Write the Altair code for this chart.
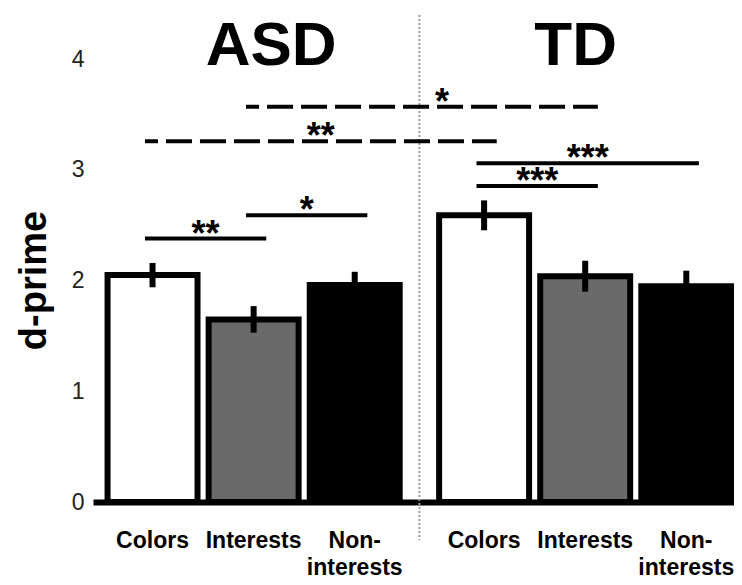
import altair as alt
import pandas as pd

FONT = "Liberation Sans"

# ---- data ----
groups = ["ASD", "TD"]
conditions = ["Colors", "Interests", "Non-interests"]
cond_labels = ["Colors", "Interests", "Non-\ninterests"]
asd_means = [2.05, 1.65, 1.96]
asd_sems = [0.11, 0.12, 0.12]
td_means = [2.59, 2.04, 1.95]
td_sems = [0.135, 0.14, 0.14]
fills = ["#ffffff", "#6a6a6a", "#000000"]
y_ticks = [0, 1, 2, 3, 4]

# significance comparisons (bar index from / to, bracket level in d-prime units)
sig_from = [0, 1, 0, 1, 3, 3]
sig_to = [1, 2, 3, 4, 4, 5]
sig_level = [2.38, 2.59, 3.26, 3.57, 2.855, 3.06]
sig_stars = ["**", "*", "**", "*", "***", "***"]
sig_dashed = [False, False, True, True, False, False]

# ---- layout helpers ----
GROUP_STEP = 3.28
HALF = 0.445
means = {"ASD": asd_means, "TD": td_means}
sems = {"ASD": asd_sems, "TD": td_sems}

rows = []
for gi, g in enumerate(groups):
    for ci, c in enumerate(conditions):
        pos = gi * GROUP_STEP + ci
        m = means[g][ci]
        s = sems[g][ci]
        rows.append(dict(group=g, cond=c, label=cond_labels[ci], pos=pos,
                         left=pos - HALF, right=pos + HALF, mean=m, base=0.0,
                         lo=m - s, hi=m + s, fill=fills[ci]))
bars = pd.DataFrame(rows)
positions = list(bars["pos"])

sig_rows = []
for i in range(len(sig_from)):
    x1 = positions[sig_from[i]] - 0.075
    x2 = positions[sig_to[i]] + 0.125
    sig_rows.append(dict(idx=i, x1=x1, x2=x2, mid=(x1 + x2) / 2, level=sig_level[i],
                         stars=sig_stars[i], dashed=sig_dashed[i]))
sig = pd.DataFrame(sig_rows)

sep = pd.DataFrame({"sep": [(positions[2] + positions[3]) / 2]})
titles = pd.DataFrame({"group": groups,
                       "center": [sum(positions[0:3]) / 3, sum(positions[3:6]) / 3]})

xscale = alt.Scale(domain=[positions[0] - 0.589, positions[-1] + 0.472], nice=False, zero=False)
yscale = alt.Scale(domain=[0, 4.4], nice=False, zero=False)
xaxis = alt.Axis(domain=True, domainWidth=6, domainColor="black", labels=False,
                 ticks=False, grid=False, title=None)
yaxis = alt.Axis(values=y_ticks, domain=False, ticks=False, grid=False,
                 labelFontSize=23, labelFont=FONT, labelColor="#222", labelPadding=9,
                 title="d-prime", titleFontSize=38, titleFont=FONT, titleFontWeight="bold",
                 titleColor="black", titleAngle=270, titleX=-48, titleY=265,
                 titleAlign="center", titleBaseline="alphabetic")


def X(f):
    return alt.X(f, type="quantitative", scale=xscale, axis=xaxis)


def Y(f):
    return alt.Y(f, type="quantitative", scale=yscale, axis=yaxis)


base_bars = alt.Chart(bars)

bar_layer = base_bars.mark_rect(stroke="black", strokeWidth=6).encode(
    x=X("left"), x2="right", y=Y("mean"), y2="base",
    fill=alt.Fill("fill:N", scale=None))

err_layer = base_bars.mark_rule(color="black", strokeWidth=6).encode(
    x=X("pos"), y=Y("lo"), y2="hi")

cat_layer = base_bars.mark_text(font=FONT, fontSize=23, fontWeight="bold", color="black",
                                align="center", baseline="alphabetic", lineBreak="\n",
                                lineHeight=27).encode(
    x=X("pos"), y=alt.value(533), text="label")

sig_base = alt.Chart(sig)
solid_layer = sig_base.transform_filter("!datum.dashed").mark_rule(
    color="black", strokeWidth=4).encode(x=X("x1"), x2="x2", y=Y("level"))
dashed_layer = sig_base.transform_filter("datum.dashed").mark_rule(
    color="black", strokeWidth=4, strokeDash=[26, 8], strokeDashOffset=13).encode(
    x=X("x1"), x2="x2", y=Y("level"))

nudged = [3]
star_layer = sig_base.transform_filter(
    alt.FieldOneOfPredicate(field="idx", oneOf=[i for i in range(len(sig_from)) if i not in nudged])
).mark_text(font=FONT, fontSize=36, fontWeight="bold", color="black", dy=7,
            baseline="alphabetic").encode(x=X("mid"), y=Y("level"), text="stars")
star_nudged = sig_base.transform_filter(
    alt.FieldOneOfPredicate(field="idx", oneOf=nudged)
).mark_text(font=FONT, fontSize=36, fontWeight="bold", color="black", dy=7, dx=20,
            baseline="alphabetic").encode(x=X("mid"), y=Y("level"), text="stars")

sep_layer = alt.Chart(sep).mark_rule(color="#9a9a9a", strokeWidth=2, strokeDash=[2, 2]).encode(
    x=X("sep"), y=alt.value(0), y2=alt.value(525))

title_dx = {"ASD": 17.5, "TD": -9.5}
title_layers = []
for g in groups:
    title_layers.append(
        alt.Chart(titles).transform_filter(alt.FieldEqualPredicate(field="group", equal=g))
        .mark_text(font=FONT, fontSize=62, fontWeight="bold", color="black",
                   baseline="alphabetic", dx=title_dx[g])
        .encode(x=X("center"), y=alt.value(50), text="group"))

chart = alt.layer(
    sep_layer, bar_layer, err_layer, solid_layer, dashed_layer, star_layer, star_nudged,
    cat_layer, *title_layers
).properties(
    width=641, height=487,
    autosize=alt.AutoSizeParams(type="none"),
    padding={"left": 85, "top": 7, "right": 0, "bottom": 80},
    background="white",
).configure_view(stroke=None)

chart.save("out.html", embed_options={"renderer": "svg", "actions": False})
